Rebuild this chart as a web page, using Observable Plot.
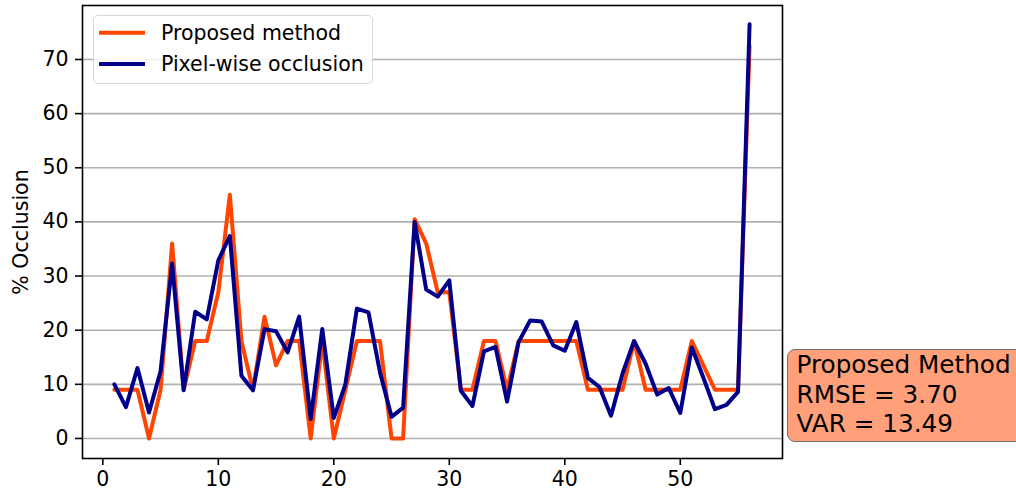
<!DOCTYPE html>
<html>
<head>
<meta charset="utf-8">
<script src="https://cdn.jsdelivr.net/npm/d3@7"></script>
<script src="https://cdn.jsdelivr.net/npm/@observablehq/plot@0.6"></script>
<style>
html, body { margin: 0; padding: 0; background: #fff; overflow: hidden; }
#wrap { position: relative; width: 1016px; height: 493px; overflow: hidden; font-family: "DejaVu Sans", sans-serif; }
#legend { position: absolute; left: 93px; top: 15px; width: 280px; height: 69px; box-sizing: border-box;
  border: 1.5px solid #d6d6d6; border-radius: 5px; background: rgba(255,255,255,0.85); }
#legend svg { position: absolute; left: -1.5px; top: -1.5px; }
#note { position: absolute; left: 787px; top: 349px; width: 240px; height: 93px; box-sizing: border-box;
  border: 1.5px solid #6e6e6e; border-radius: 8px; background: #ffa07a; color: #000;
  font-size: 24.7px; line-height: 29.5px; padding: 0 0 0 8.5px; white-space: pre; }
</style>
</head>
<body>
<div id="wrap"></div>
<script>
// ---- data ----
const frames = [1,2,3,4,5,6,7,8,9,10,11,12,13,14,15,16,17,18,19,20,21,22,23,24,25,26,27,28,29,30,
  31,32,33,34,35,36,37,38,39,40,41,42,43,44,45,46,47,48,49,50,51,52,53,54,55,56];
const proposed = [9,9,9,0,9,36,9,18,18,27,45,18,9,22.5,13.5,18,18,0,18,0,9,18,18,18,0,0,40.5,36,27,27,
  9,9,18,18,9,18,18,18,18,18,18,9,9,9,9,18,9,9,9,9,18,13.5,9,9,9,72.5];
const pixelwise = [10,5.8,13,4.8,12.4,32.3,8.9,23.4,22,32.9,37.4,11.6,8.9,20.2,19.8,15.9,22.5,3.6,20.2,3.8,
  10,24,23.3,12.2,4,5.7,40,27.5,26.2,29.2,8.8,6,16.1,16.9,6.8,17.8,21.8,21.6,17.2,16.2,21.5,11.2,9.5,4.2,12,
  18,13.8,8.1,9.3,4.7,16.8,11.2,5.4,6.2,8.6,76.5];
const xTicks = [0,10,20,30,40,50];
const yTicks = [0,10,20,30,40,50,60,70];
const seriesNames = ["Proposed method", "Pixel-wise occlusion"];
const seriesColors = ["#ff4500", "#00008b"];
const yLabel = "% Occlusion";
const noteLines = ["Proposed Method", "RMSE = 3.70", "VAR = 13.49"];

const rows = frames.map((f, i) => ({frame: f, proposed: proposed[i], pixel: pixelwise[i]}));

const chart = Plot.plot({
  width: 1016,
  height: 493,
  marginLeft: 82,
  marginRight: 234,
  marginTop: 5,
  marginBottom: 35,
  style: {fontFamily: "DejaVu Sans", fontSize: "20.5px", color: "black", background: "white"},
  x: {domain: [-1.76, 58.85]},
  y: {domain: [-3.7, 79.97]},
  marks: [
    Plot.gridY(yTicks, {stroke: "#b0b0b0", strokeOpacity: 1, strokeWidth: 1.6}),
    Plot.line(rows, {x: "frame", y: "proposed", stroke: seriesColors[0], strokeWidth: 4, strokeLinejoin: "round"}),
    Plot.line(rows, {x: "frame", y: "pixel", stroke: seriesColors[1], strokeWidth: 4, strokeLinejoin: "round"}),
    Plot.frame({stroke: "black", strokeWidth: 1.6}),
    Plot.axisX(xTicks, {tickSize: 7, tickPadding: 6, strokeWidth: 1.6, label: null, fontSize: 20.5}),
    Plot.axisY(yTicks, {tickSize: 7, tickPadding: 7, strokeWidth: 1.6, label: null, fontSize: 20.5}),
    Plot.text([yLabel], {frameAnchor: "left", dx: -61, rotate: -90, fontSize: 20.5, textAnchor: "middle", fill: "black"})
  ]
});

const wrap = document.getElementById("wrap");
wrap.appendChild(chart);

// legend
const legend = document.createElement("div");
legend.id = "legend";
const ns = "http://www.w3.org/2000/svg";
const lsvg = document.createElementNS(ns, "svg");
lsvg.setAttribute("width", 280);
lsvg.setAttribute("height", 69);
seriesNames.forEach((name, i) => {
  const cy = 17.7 + i * 31.3;
  const ln = document.createElementNS(ns, "line");
  ln.setAttribute("x1", 6); ln.setAttribute("x2", 52);
  ln.setAttribute("y1", cy); ln.setAttribute("y2", cy);
  ln.setAttribute("stroke", seriesColors[i]); ln.setAttribute("stroke-width", 4);
  lsvg.appendChild(ln);
  const tx = document.createElementNS(ns, "text");
  tx.setAttribute("x", 68); tx.setAttribute("y", cy + 7.4);
  tx.setAttribute("font-size", 20.5); tx.setAttribute("font-family", "DejaVu Sans");
  tx.textContent = name;
  lsvg.appendChild(tx);
});
legend.appendChild(lsvg);
wrap.appendChild(legend);

// annotation box
const note = document.createElement("div");
note.id = "note";
note.textContent = noteLines.join("\n");
wrap.appendChild(note);
</script>
</body>
</html>
